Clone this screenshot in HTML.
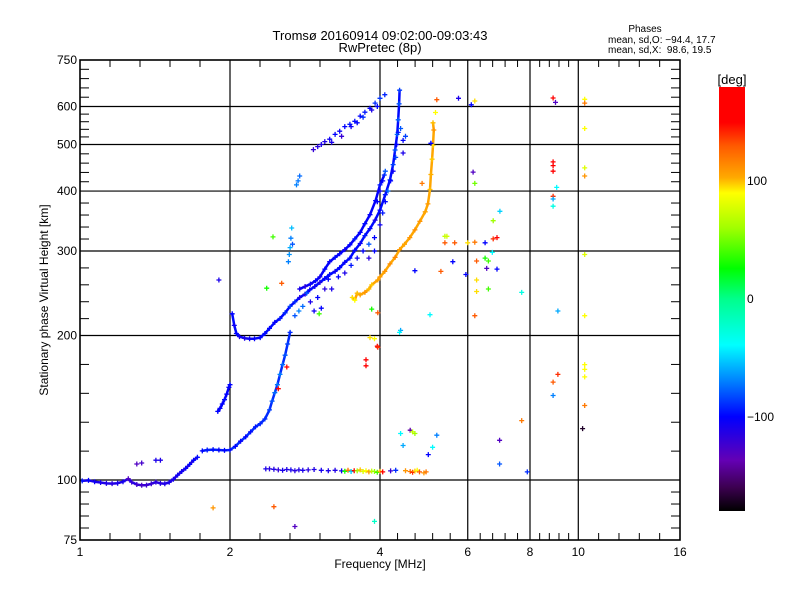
<!DOCTYPE html>
<html><head><meta charset="utf-8"><title>Ionogram</title>
<style>
body{margin:0;background:#fff;}
svg text{font-family:"Liberation Sans","DejaVu Sans",sans-serif;fill:#000;}
</style></head>
<body>
<svg id="chart" width="800" height="600" viewBox="0 0 800 600" xmlns="http://www.w3.org/2000/svg">
<rect width="800" height="600" fill="#fff"/>
<text x="380" y="40" font-size="13" text-anchor="middle">Tromsø 20160914 09:02:00-09:03:43</text>
<text x="380" y="52" font-size="13" text-anchor="middle">RwPretec (8p)</text>
<text x="645" y="32" font-size="10" text-anchor="middle">Phases</text>
<text x="608" y="43" font-size="10">mean, sd,O: −94.4, 17.7</text>
<text x="608" y="53" font-size="10">mean, sd,X:&#160;&#160;98.6, 19.5</text>
<g id="grid"></g>
<g id="marks"></g>
<g id="axes"></g>
<text x="380" y="568" font-size="12" text-anchor="middle">Frequency [MHz]</text>
<text x="0" y="0" font-size="12" text-anchor="middle" transform="translate(48,300) rotate(-90)">Stationary phase Virtual Height [km]</text>
<defs>
<linearGradient id="cbGrad" x1="0" y1="1" x2="0" y2="0"></linearGradient>
</defs>
<rect x="719" y="87" width="26" height="424" fill="url(#cbGrad)"/>
<text x="732" y="84" font-size="13" text-anchor="middle">[deg]</text>
<g id="cbticks"></g>
</svg>
<script>
// ---- axis data ----
const xTickVals = [1, 2, 4, 6, 8, 10, 16];
const xTickLabels = ["1", "2", "4", "6", "8", "10", "16"];
const xGridVals = [2, 4, 6, 8, 10];
const yTickVals = [75, 100, 200, 300, 400, 500, 600, 750];
const yTickLabels = ["75", "100", "200", "300", "400", "500", "600", "750"];
const yGridVals = [100, 200, 300, 400, 500, 600];
const cbTickVals = [100, 0, -100];
const cbTickLabels = ["100", "0", "−100"];

// ---- series data (freq MHz, height km, phase deg) ----
const eLowFreq = [1.01,1.04,1.07,1.1,1.13,1.16,1.19,1.22,1.25,1.27,1.3,1.33,1.36,1.39,1.42,1.45,1.48,1.51,1.54,1.57,1.6,1.63,1.66,1.69,1.72];
const eLowHeight = [99.6,99.8,99.2,98.8,98.4,98.3,98.5,99.2,100.6,99,97.9,97.5,97.6,98.2,99,98.4,98.2,98.9,100.4,102.4,104.2,105.8,107.8,110,111.5];
const eLowPhase = [-95,-100,-105,-110,-112,-115,-110,-108,-130,-120,-125,-128,-125,-122,-118,-115,-112,-110,-108,-105,-105,-102,-100,-100,-98];

const eRiseFreq = [1.76,1.8,1.85,1.9,1.95,2.0,2.05,2.1,2.15,2.2,2.25,2.3,2.35,2.4,2.43,2.46,2.49,2.52,2.55,2.58,2.61,2.64];
const eRiseHeight = [115,115.5,115.7,115.5,115.3,115.5,117.5,120.5,123,126,129,131,134,140,146,152,158,166,174,182,192,203];
const eRisePhase = [-100,-95,-98,-102,-100,-98,-100,-102,-100,-98,-95,-92,-90,-85,-80,-75,-72,-70,-75,-80,-85,-90];

const rise2Freq = [1.89,1.91,1.93,1.95,1.97,1.99,2.0];
const rise2Height = [139,141,144,147,151,156,158];
const rise2Phase = [-100,-102,-100,-98,-100,-102,-100];

const fOFreq = [2.02,2.04,2.06,2.09,2.14,2.19,2.24,2.3,2.35,2.4,2.46,2.52,2.58,2.64,2.7,2.76,2.83,2.89,2.96,3.03,3.1,3.17,3.25,3.32,3.4,3.48,3.56,3.65,3.73,3.82,3.91,4.0,4.1,4.19,4.25,4.29,4.33,4.35,4.37,4.38];
const fOHeight = [222,210,202,199,197.5,197,197,198,202,207,213,217,223,230,235,240,244,249,253,258,263,268,272,277,284,290,301,311,323,334,348,365,393,422,454,487,525,563,608,649];
const fOPhase = [-100,-105,-100,-108,-110,-105,-102,-100,-98,-100,-102,-95,-90,-85,-90,-110,-115,-100,-105,-110,-100,-98,-105,-100,-102,-98,-100,-105,-95,-100,-110,-100,-95,-90,-85,-80,-75,-78,-80,-85];

const fO2Freq = [2.76,2.83,2.9,2.97,3.03,3.1,3.17,3.25,3.32,3.4,3.48,3.56,3.65,3.73,3.82,3.92,4.0,4.08];
const fO2Height = [250,253,256,260,265,275,285,291,296,302,309,318,328,342,357,382,412,432];
const fO2Phase = [-110,-115,-105,-100,-108,-100,-102,-98,-100,-105,-100,-95,-100,-98,-102,-100,-95,-90];

const cloudFreq = [3.3,3.4,3.5,3.6,3.7,3.8,3.9,4.0,4.05,4.1,4.15,4.2,4.25,4.3,4.32,4.35,4.4,4.45,4.45,4.5,4.0,4.05,4.1,3.95,3.8,3.9,2.8,2.9,3.0,3.1,2.85,2.95,3.05,3.2,3.15,2.75,2.7];
const cloudHeight = [265,270,280,290,300,310,320,340,360,380,400,420,440,470,500,530,540,510,480,520,400,420,440,380,290,300,230,235,240,250,245,225,228,250,262,225,220];
const cloudPhase = [-100,-110,-95,-105,-100,-80,-100,-105,-95,-100,-75,-100,-105,-85,-100,-95,-80,-100,-110,-85,-105,-100,-80,-100,-115,-100,-75,-110,-100,-115,-80,-105,-100,-110,-100,-70,-80];

const fUpFreq = [2.72,2.74,2.76,2.94,3.0,3.05,3.1,3.17,3.25,3.32,3.4,3.48,3.56,3.65,3.73,3.82,3.91,4.0,4.09,3.2,3.35,3.5,3.6,3.7,3.85,3.95];
const fUpHeight = [412,420,430,488,495,500,507,513,525,533,545,551,559,573,584,595,610,624,635,505,520,545,555,570,590,600];
const fUpPhase = [-70,-72,-75,-120,-115,-110,-112,-105,-100,-105,-100,-95,-98,-100,-95,-100,-90,-88,-92,-110,-120,-105,-100,-90,-110,-100];

const fXFreq = [3.52,3.56,3.6,3.65,3.73,3.8,3.85,3.96,4.0,4.09,4.19,4.29,4.38,4.48,4.59,4.7,4.81,4.93,4.99,5.04,5.06,5.09,5.11,5.13,5.11];
const fXHeight = [240,237,245,243,246,250,255,261,265,272,282,291,302,310,320,332,346,362,376,403,433,466,498,536,555];
const fXPhase = [95,90,100,105,110,100,98,105,108,110,112,115,108,105,110,112,110,105,108,100,102,98,95,110,100];

const esFreq = [2.36,2.4,2.45,2.5,2.55,2.6,2.65,2.7,2.75,2.8,2.87,2.95,3.05,3.15,3.25,3.35,3.4,3.45,3.5,3.55,3.6,3.65,3.7,3.75,3.8,3.85,3.9,3.95,4.0,4.05,4.2,4.3,4.5,4.6,4.65,4.7,4.75,4.8,4.9,4.95];
const esHeight = [105.5,105.5,105.3,105,104.8,105.2,105,104.6,105,104.8,105,105.2,104.8,104.6,104.8,104.5,104.3,104.8,104.2,104.6,104.5,105,104.2,104.6,104,104.4,104.2,103.8,104.3,104,104.5,104.8,104.6,104.2,103.8,104.4,104.8,104,103.5,104];
const esPhase = [-110,-115,-112,-118,-110,-112,-108,-115,-112,-110,-115,-112,-108,-110,-112,-105,30,120,-50,160,60,100,80,90,110,70,60,40,100,170,-120,-90,110,120,140,100,90,130,110,120];

const scatFreq = [1.3,1.33,1.42,1.45,1.85,2.45,2.7,3.9,4.4,4.45,4.6,4.7,4.65,5.2,5.0,5.1,6.95,6.95,7.9,7.7,8.9,8.9,9.1,10.3,10.3,10.3,10.2,3.75,3.95,3.9,2.6,2.5,4.4,8.9,9.0,10.3,10.3,10.3,10.3,10.3,8.9,8.9,8.9,9.05,8.9,8.9,8.9,10.3,10.3,9.1,10.3,5.2,5.75,6.2,6.1,5.17,6.15,6.2,4.86,6.96,6.75,5.4,5.45,5.4,5.65,6.0,6.2,6.5,6.75,6.87,6.72,6.5,6.6,6.25,5.6,6.55,6.87,5.3,4.7,6.25,6.6,7.7,6.25,5.95,5.04,6.2,1.9,2.44,2.54,2.37,3.02,3.96,3.85,3.82,3.96,3.75,4.38,5.06,2.62,2.63,2.64,2.65,2.66,2.67];
const scatHeight = [108,108.5,110,110,87.5,88,80,82,125,118,127,125,126,124,113,117,121,108,104,133,150,160,166,143,174,164,128,178,190,197,172,155,205,625,612,621,610,540,447,430,460,452,440,407,390,385,372,295,220,225,170,620,624,616,605,583,438,415,415,363,347,322,322,312,312,312,313,312,318,320,298,290,286,286,285,276,275,272,273,261,250,246,247,268,221,220,261,321,257,251,222,223,227,198,189,173,203,503,285,295,305,319,335,310];
const scatPhase = [-130,-125,-110,-112,110,130,-130,-20,-40,-60,-140,60,70,-70,-100,-40,-130,-80,-90,120,-70,130,140,120,90,90,-170,170,150,90,160,150,-60,170,-130,90,120,90,80,110,150,150,150,-40,140,-60,-30,80,90,-60,90,130,-110,95,-100,90,-130,50,120,-50,60,70,75,130,130,95,120,-100,140,160,-40,30,40,130,-100,-130,-100,130,-100,95,40,-30,95,-100,-40,130,-110,40,130,30,40,130,30,95,140,160,-40,-100,-70,-65,-60,-70,-55,-80];

// ---- scales ----
const X0 = 80, X1 = 680, Y0 = 540, Y1 = 60;
function xScale(f){ return X0 + 150 * Math.log2(f); }
function yScale(h){ return Y0 - 480 * Math.log10(h / 75); }
function phaseY(p){ return 299 - p * (424 / 360); }

const cStops = [[-180,0,0,0],[-160,60,0,80],[-137,100,0,180],[-100,0,0,255],[-70,0,128,255],[-39,0,255,255],[0,0,255,140],[26,0,255,0],[60,160,255,0],[90,255,255,0],[103,255,170,0],[130,255,90,0],[150,255,0,0],[180,255,0,0]];
function phaseColor(p){
  p = Math.max(-180, Math.min(180, p));
  for (let i = 0; i < cStops.length - 1; i++) {
    const a = cStops[i], b = cStops[i+1];
    if (p >= a[0] && p <= b[0]) {
      const t = (p - a[0]) / (b[0] - a[0] || 1);
      const c = [1,2,3].map(k => Math.round(a[k] + (b[k] - a[k]) * t));
      return `rgb(${c[0]},${c[1]},${c[2]})`;
    }
  }
  return "#000";
}

const NS = "http://www.w3.org/2000/svg";
function mk(tag, attrs, parent){
  const e = document.createElementNS(NS, tag);
  for (const k in attrs) e.setAttribute(k, attrs[k]);
  parent.appendChild(e);
  return e;
}
const grid = document.getElementById("grid");
const axes = document.getElementById("axes");
const marks = document.getElementById("marks");

xGridVals.forEach(v => {
  const x = xScale(v);
  const l = mk("line", {x1:x, y1:Y1, x2:x, y2:Y0, stroke:"#000", "stroke-width":1.2}, grid);
  
  
});
yGridVals.forEach(v => {
  const y = yScale(v);
  const l = mk("line", {x1:X0, y1:y, x2:X1, y2:y, stroke:"#000", "stroke-width":1.2}, grid);
  
  
});

const frame = mk("rect", {x:X0, y:Y1, width:X1-X0, height:Y0-Y1, fill:"none", stroke:"#000", "stroke-width":1.6}, axes);



for (let i = 0; i < xTickVals.length; i++) {
  const x = xScale(xTickVals[i]);
  const t = mk("text", {x:x, y:556, "font-size":12, "text-anchor":"middle"}, axes);
  t.textContent = xTickLabels[i];
  
  
  if (i < xTickVals.length - 1) {
    const xn = xScale(xTickVals[i+1]);
    for (let k = 1; k < 5; k++) {
      const xx = x + (xn - x) * k / 5;
      const a = mk("line", {x1:xx, y1:Y0, x2:xx, y2:Y0-7, stroke:"#000", "stroke-width":1}, axes);
      
      
      const b = mk("line", {x1:xx, y1:Y1, x2:xx, y2:Y1+7, stroke:"#000", "stroke-width":1}, axes);
      
      
    }
  }
}
for (let i = 0; i < yTickVals.length; i++) {
  const y = yScale(yTickVals[i]);
  const t = mk("text", {x:77, y:y+4, "font-size":12, "text-anchor":"end"}, axes);
  t.textContent = yTickLabels[i];
  
  
  if (i < yTickVals.length - 1) {
    const yn = yScale(yTickVals[i+1]);
    for (let k = 1; k < 5; k++) {
      const yy = y + (yn - y) * k / 5;
      const a = mk("line", {x1:X0, y1:yy, x2:X0+9, y2:yy, stroke:"#000", "stroke-width":1}, axes);
      
      
      const b = mk("line", {x1:X1, y1:yy, x2:X1-9, y2:yy, stroke:"#000", "stroke-width":1}, axes);
      
      
    }
  }
}

function drawSeries(name, fs, hs, ps, band){
  if (band) {
    let d = "";
    for (let i = 0; i < fs.length; i++) d += (i ? "L" : "M") + xScale(fs[i]).toFixed(1) + "," + yScale(hs[i]).toFixed(1);
    const avg = ps.reduce((a,b)=>a+b,0) / ps.length;
    const pl = mk("path", {d:d, fill:"none", stroke:phaseColor(avg), "stroke-width":2.5, "stroke-linejoin":"round", "stroke-linecap":"round"}, marks);
    
    
  }
  for (let i = 0; i < fs.length; i++) {
    const x = xScale(fs[i]), y = yScale(hs[i]);
    const p = mk("path", {d:`M${(x-2.5).toFixed(1)},${y.toFixed(1)}h5M${x.toFixed(1)},${(y-2.5).toFixed(1)}v5`, stroke:phaseColor(ps[i]), "stroke-width":1.3, fill:"none"}, marks);
    
    
  }
}
drawSeries("e-low-trace", eLowFreq, eLowHeight, eLowPhase, true);
drawSeries("e-rise-trace", eRiseFreq, eRiseHeight, eRisePhase, true);
drawSeries("rise2-trace", rise2Freq, rise2Height, rise2Phase, true);
drawSeries("f-o-trace", fOFreq, fOHeight, fOPhase, true);
drawSeries("f-o2-trace", fO2Freq, fO2Height, fO2Phase, true);
drawSeries("f-cloud", cloudFreq, cloudHeight, cloudPhase, false);
drawSeries("f-upper-trace", fUpFreq, fUpHeight, fUpPhase, false);
drawSeries("f-x-trace", fXFreq, fXHeight, fXPhase, true);
drawSeries("es-trace", esFreq, esHeight, esPhase, false);
drawSeries("scatter", scatFreq, scatHeight, scatPhase, false);

const grad = document.getElementById("cbGrad");
cStops.forEach(s => {
  mk("stop", {offset:((s[0] + 180) / 360).toFixed(4), "stop-color":`rgb(${s[1]},${s[2]},${s[3]})`}, grad);
});
const cbt = document.getElementById("cbticks");
for (let i = 0; i < cbTickVals.length; i++) {
  const t = mk("text", {x:747, y:phaseY(cbTickVals[i]) + 4, "font-size":12}, cbt);
  t.textContent = cbTickLabels[i];
  
  
}
</script>
</body></html>
